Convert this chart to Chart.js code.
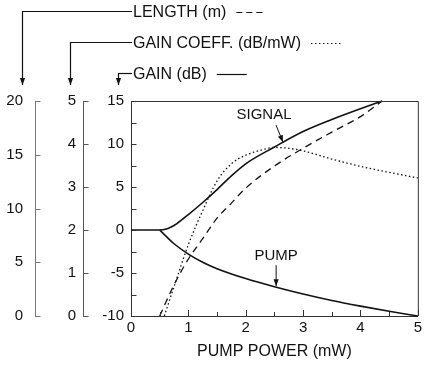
<!DOCTYPE html>
<html>
<head>
<meta charset="utf-8">
<script src="https://cdn.jsdelivr.net/npm/chart.js@4"></script>
<style>
  html, body { margin: 0; padding: 0; background: #fff; }
</style>
</head>
<body>
<canvas id="chart" width="425" height="374"></canvas>
<script>
// signal gain (dB) vs pump power (mW)
const signalPower = [0, 0.5, 0.6, 0.7, 0.8, 1.0, 1.25, 1.5, 1.75, 2.0, 2.5, 3.0, 3.5, 4.0, 4.38];
const signalGain  = [0, 0, 0.08, 0.35, 0.75, 1.8, 3.2, 4.7, 6.3, 7.7, 9.65, 11.45, 12.85, 14.1, 15];

// pump gain (dB)
const pumpPower = [0.5, 0.6, 0.75, 1.0, 1.25, 1.5, 2.0, 2.5, 3.0, 3.5, 4.0, 4.5, 5.0];
const pumpGain  = [0, -0.65, -1.6, -2.8, -3.75, -4.5, -5.65, -6.6, -7.45, -8.2, -8.85, -9.45, -10];

// optimum fibre length (m)
const lengthPower  = [0.5, 0.75, 1.0, 1.25, 1.5, 1.75, 2.0, 2.5, 3.0, 3.5, 4.0, 4.38];
const lengthMeters = [0, 2.9, 5.3, 7.2, 9.1, 10.5, 11.9, 13.95, 15.6, 17.1, 18.55, 20];

// gain coefficient (dB/mW)
const coeffPower  = [0.58, 0.75, 1.0, 1.25, 1.5, 1.75, 2.0, 2.25, 2.5, 2.75, 3.0, 3.5, 4.0, 4.5, 5.0];
const coeffValues = [0, 0.68, 1.66, 2.45, 3.14, 3.54, 3.74, 3.85, 3.92, 3.9, 3.84, 3.65, 3.48, 3.34, 3.21];

// axis tick values
const powerTicks  = [0, 0.5, 1, 1.5, 2, 2.5, 3, 3.5, 4, 4.5, 5];
const gainTicks   = [-10, -7.5, -5, -2.5, 0, 2.5, 5, 7.5, 10, 12.5, 15];
const coeffTicks  = [0, 1, 2, 3, 4, 5];
const lengthTicks = [0, 5, 10, 15, 20];

const FONT = 'Liberation Sans, Arial, Helvetica, sans-serif';
const INK = '#111';

function pts(xs, ys) {
  return xs.map((x, i) => ({ x: x, y: ys[i] }));
}

function arrow(ctx, x0, y0, x1, y1) {
  ctx.beginPath();
  ctx.moveTo(x0, y0);
  ctx.lineTo(x1, y1);
  ctx.stroke();
  const a = Math.atan2(y1 - y0, x1 - x0);
  const len = 7, half = 2.6;
  ctx.beginPath();
  ctx.moveTo(x1, y1);
  ctx.lineTo(x1 - len * Math.cos(a) + half * Math.sin(a), y1 - len * Math.sin(a) - half * Math.cos(a));
  ctx.lineTo(x1 - len * Math.cos(a) - half * Math.sin(a), y1 - len * Math.sin(a) + half * Math.cos(a));
  ctx.closePath();
  ctx.fill();
}

// inward tick marks, top/right frame and the labelled headers
const decorations = {
  id: 'decorations',
  afterDraw(chart) {
    const ctx = chart.ctx;
    const area = chart.chartArea;
    const sx = chart.scales.x;
    const sg = chart.scales.yGain;
    const sc = chart.scales.yCoeff;
    const sl = chart.scales.yLen;
    ctx.save();
    ctx.lineWidth = 1;

    // frame
    ctx.strokeStyle = '#333';
    ctx.beginPath();
    ctx.moveTo(area.left, area.top + 0.5);
    ctx.lineTo(area.right + 0.5, area.top + 0.5);
    ctx.lineTo(area.right + 0.5, area.bottom);
    ctx.stroke();

    const yTicks = (scale, values, color) => {
      ctx.strokeStyle = color;
      const x = Math.round(scale.right) + 0.5;
      values.forEach(v => {
        const y = Math.round(scale.getPixelForValue(v)) + 0.5;
        ctx.beginPath();
        ctx.moveTo(x, y);
        ctx.lineTo(x + 5, y);
        ctx.stroke();
      });
    };
    yTicks(sg, gainTicks, '#333');
    yTicks(sc, coeffTicks, '#555');
    yTicks(sl, lengthTicks, '#777');

    ctx.strokeStyle = '#333';
    powerTicks.forEach((v, i) => {
      const x = Math.round(sx.getPixelForValue(v)) + 0.5;
      ctx.beginPath();
      ctx.moveTo(x, area.bottom);
      ctx.lineTo(x, area.bottom - (i % 2 === 0 ? 6 : 4));
      ctx.stroke();
    });

    // headers with arrows pointing down to each axis
    ctx.strokeStyle = INK;
    ctx.fillStyle = INK;
    ctx.font = '16px ' + FONT;
    ctx.textBaseline = 'middle';
    ctx.textAlign = 'left';
    const tipY = area.top - 16;
    const textX = area.left + 2;
    const headers = [
      { text: 'LENGTH (m)', y: 11, x: sl.right - 13, dash: [6, 4] },
      { text: 'GAIN COEFF. (dB/mW)', y: 42, x: sc.right - 13, dash: [1.5, 2.5] },
      { text: 'GAIN (dB)', y: 73, x: sg.right - 13, dash: [] }
    ];
    headers.forEach(h => {
      ctx.lineWidth = 1.2;
      ctx.setLineDash([]);
      ctx.beginPath();
      ctx.moveTo(textX - 1, h.y + 0.5);
      ctx.lineTo(h.x + 0.5, h.y + 0.5);
      ctx.stroke();
      arrow(ctx, h.x + 0.5, h.y, h.x + 0.5, tipY);
      ctx.fillText(h.text, textX, h.y + 1.5);
      const w = ctx.measureText(h.text).width;
      ctx.setLineDash(h.dash);
      ctx.beginPath();
      ctx.moveTo(textX + w + 10, h.y + 1.5);
      ctx.lineTo(textX + w + 40, h.y + 1.5);
      ctx.stroke();
    });
    ctx.setLineDash([]);

    // curve labels
    ctx.lineWidth = 1;
    ctx.font = '15px ' + FONT;
    ctx.textAlign = 'center';
    const sTipX = sx.getPixelForValue(2.65), sTipY = sg.getPixelForValue(10.1);
    ctx.fillText('SIGNAL', sTipX - 19, sTipY - 28);
    arrow(ctx, sTipX - 7, sTipY - 18, sTipX, sTipY - 1);
    const pTipX = sx.getPixelForValue(2.53), pTipY = sg.getPixelForValue(-6.65);
    ctx.fillText('PUMP', pTipX, pTipY - 31);
    arrow(ctx, pTipX, pTipY - 22, pTipX, pTipY - 1);

    ctx.restore();
  }
};

const fixedWidth = w => scale => { scale.width = w; };

new Chart(document.getElementById('chart'), {
  type: 'line',
  data: {
    datasets: [
      {
        label: 'SIGNAL',
        data: pts(signalPower, signalGain),
        yAxisID: 'yGain',
        borderColor: INK,
        borderWidth: 1.6
      },
      {
        label: 'PUMP',
        data: pts(pumpPower, pumpGain),
        yAxisID: 'yGain',
        borderColor: INK,
        borderWidth: 1.6
      },
      {
        label: 'GAIN COEFF.',
        data: pts(coeffPower, coeffValues),
        yAxisID: 'yCoeff',
        borderColor: INK,
        borderWidth: 1.3,
        borderDash: [1.5, 2.5]
      },
      {
        label: 'LENGTH',
        data: pts(lengthPower, lengthMeters),
        yAxisID: 'yLen',
        borderColor: INK,
        borderWidth: 1.3,
        borderDash: [7, 5]
      }
    ]
  },
  options: {
    responsive: false,
    animation: false,
    clip: false,
    elements: {
      point: { radius: 0 },
      line: { cubicInterpolationMode: 'monotone' }
    },
    layout: { padding: { top: 101, right: 6, left: 0, bottom: 0 } },
    plugins: {
      legend: { display: false },
      tooltip: { enabled: false }
    },
    scales: {
      x: {
        type: 'linear',
        min: 0,
        max: 5,
        grid: { display: false, drawTicks: false },
        border: { color: '#333', width: 1 },
        ticks: { stepSize: 1, padding: 3, color: INK, font: { family: FONT, size: 15 } },
        title: {
          display: true,
          text: 'PUMP POWER (mW)',
          color: INK,
          font: { family: FONT, size: 16 },
          padding: { top: 0, bottom: 13 }
        },
        afterFit: scale => { scale.height = 58; }
      },
      yGain: {
        position: 'left',
        weight: 0,
        min: -10,
        max: 15,
        grid: { display: false, drawTicks: false },
        border: { color: '#333', width: 1 },
        ticks: { stepSize: 5, padding: 7, color: INK, font: { family: FONT, size: 15 } },
        afterFit: fixedWidth(48)
      },
      yCoeff: {
        position: 'left',
        weight: 1,
        min: 0,
        max: 5,
        grid: { display: false, drawTicks: false },
        border: { color: '#555', width: 1 },
        ticks: { stepSize: 1, padding: 7, color: INK, font: { family: FONT, size: 15 } },
        afterFit: fixedWidth(48)
      },
      yLen: {
        position: 'left',
        weight: 2,
        min: 0,
        max: 20,
        grid: { display: false, drawTicks: false },
        border: { color: '#777', width: 1 },
        ticks: { stepSize: 5, padding: 12, color: INK, font: { family: FONT, size: 15 } },
        afterFit: fixedWidth(35)
      }
    }
  },
  plugins: [decorations]
});
</script>
</body>
</html>
